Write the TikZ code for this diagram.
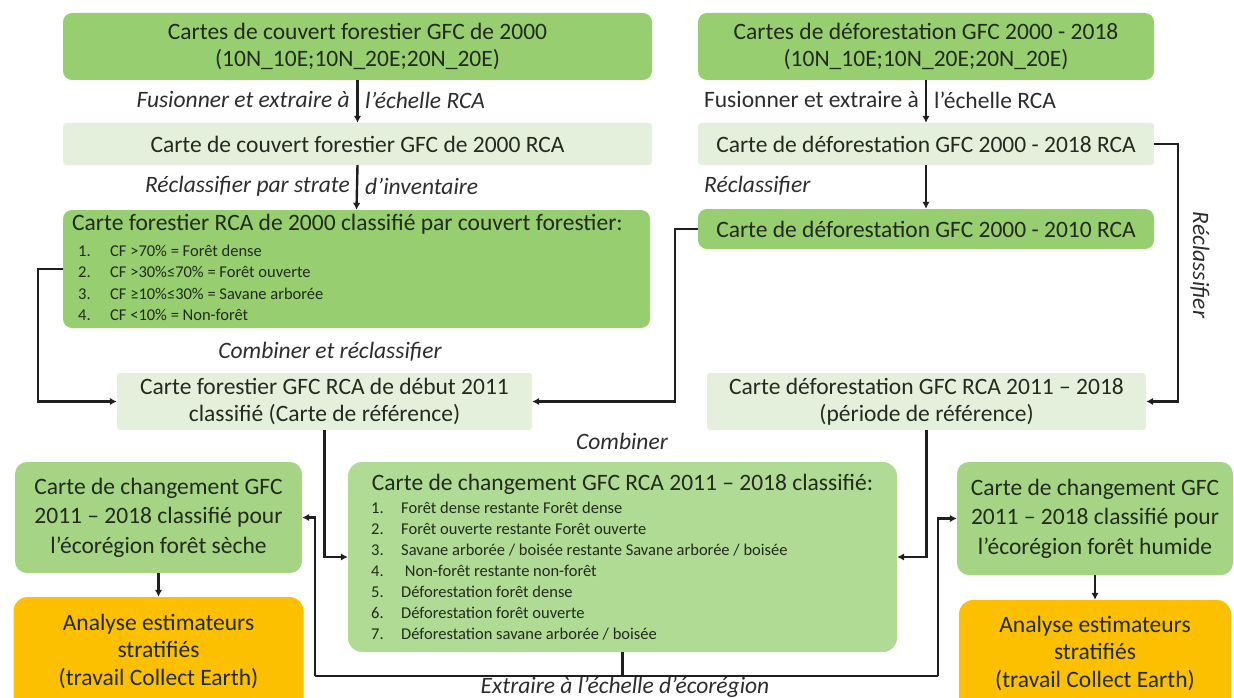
\documentclass[tikz,border=0pt]{standalone}
\usepackage{fontspec}
\setmainfont{Carlito}
\usetikzlibrary{arrows.meta}
\definecolor{gA}{RGB}{150,206,112}
\definecolor{gE}{RGB}{164,212,132}
\definecolor{gC}{RGB}{176,219,148}
\definecolor{gL}{RGB}{228,240,220}
\definecolor{orC}{RGB}{252,192,0}
\definecolor{txt}{RGB}{35,42,30}
\definecolor{labc}{RGB}{45,45,45}
\begin{document}
\begin{tikzpicture}[x=1pt,y=-1pt,
  box/.style={inner sep=0pt, align=center, text=txt, font=\fontsize{23.5}{27.5}\selectfont},
  gbox/.style={box, fill=gA, rounded corners=9pt},
  ebox/.style={box, fill=gE, rounded corners=12pt, font=\fontsize{23.5}{29.5}\selectfont},
  cbox/.style={box, fill=gC, rounded corners=14pt},
  lbox/.style={box, fill=gL, rounded corners=3pt},
  obox/.style={box, fill=orC, rounded corners=14pt},
  lab/.style={inner sep=0pt, text=labc, font=\fontsize{23.5}{27}\selectfont\itshape},
  labu/.style={inner sep=0pt, text=labc, font=\fontsize{23.5}{27}\selectfont},
  itm/.style={inner sep=0pt, anchor=west, text=txt, font=\fontsize{16.5}{20}\selectfont},
  conn/.style={line width=2.4pt, draw=black!88},
  arr/.style={conn, -{Latex[length=7pt,width=7.5pt]}}
]
\clip (0,0) rectangle (1234,698);
\useasboundingbox (0,0) rectangle (1234,698);

% left column
\node[gbox, minimum width=589, minimum height=67] (b1) at (357.5,46.5)
  {Cartes de couvert forestier GFC de 2000\\(10N\_10E;10N\_20E;20N\_20E)};
\node[lbox, minimum width=589, minimum height=42] (b2) at (357.5,144)
  {Carte de couvert forestier GFC de 2000 RCA};
\node[gbox, minimum width=587, minimum height=118] (b3) at (356.5,269) {};
\node[box, anchor=west] (b3t) at (72,224)
  {Carte forestier RCA de 2000 classifié par couvert forestier:};
\node[itm] (b3n1) at (78,251) {1.};
\node[itm] (b3n2) at (78,272) {2.};
\node[itm] (b3n3) at (78,294) {3.};
\node[itm] (b3n4) at (78,315) {4.};
\node[itm] (b3i1) at (110,251) {CF >70\% = Forêt dense};
\node[itm] (b3i2) at (110,272) {CF >30\%≤70\% = Forêt ouverte};
\node[itm] (b3i3) at (110,294) {CF ≥10\%≤30\% = Savane arborée};
\node[itm] (b3i4) at (110,315) {CF <10\% = Non-forêt};

% right column
\node[gbox, minimum width=456, minimum height=67] (r1) at (926,46.5)
  {Cartes de déforestation GFC 2000 - 2018\\(10N\_10E;10N\_20E;20N\_20E)};
\node[lbox, minimum width=456, minimum height=42] (r2) at (926,144)
  {Carte de déforestation GFC 2000 - 2018 RCA};
\node[gbox, minimum width=456, minimum height=40] (r3) at (926,229)
  {Carte de déforestation GFC 2000 - 2010 RCA};

% reference maps
\node[lbox, minimum width=415, minimum height=57] (ref) at (324.5,401.5)
  {Carte forestier GFC RCA de début 2011\\classifié (Carte de référence)};
\node[lbox, minimum width=439, minimum height=57] (def) at (926.5,401.5)
  {Carte déforestation GFC RCA 2011 – 2018\\(période de référence)};

% change map
\node[cbox, minimum width=549, minimum height=190] (chg) at (622.5,557) {};
\node[box] (chgt) at (622.5,484) {Carte de changement GFC RCA 2011 – 2018 classifié:};
\foreach \i/\t [evaluate=\i as \yy using 487+21*\i] in {
  1/{Forêt dense restante Forêt dense},
  2/{Forêt ouverte restante Forêt ouverte},
  3/{Savane arborée / boisée restante Savane arborée / boisée},
  4/{\ Non-forêt restante non-forêt},
  5/{Déforestation forêt dense},
  6/{Déforestation forêt ouverte},
  7/{Déforestation savane arborée / boisée}}{
  \node[itm] (cn\i) at (371,\yy) {\i.};
  \node[itm] (ci\i) at (401,\yy) {\t};
}

% eco-region maps
\node[ebox, minimum width=287, minimum height=111] (ecoL) at (158.5,517.5)
  {Carte de changement GFC\\2011 – 2018 classifié pour\\l’écorégion forêt sèche};
\node[ebox, minimum width=276, minimum height=113] (ecoR) at (1095,518.5)
  {Carte de changement GFC\\2011 – 2018 classifié pour\\l’écorégion forêt humide};

% analysis boxes
\node[obox, minimum width=290, minimum height=126] (orL) at (158.5,660) {};
\node[box] (orLt) at (158.5,651) {Analyse estimateurs\\stratifiés\\(travail Collect Earth)};
\node[obox, minimum width=272, minimum height=124] (orR) at (1095,662) {};
\node[box] (orRt) at (1095,653) {Analyse estimateurs\\stratifiés\\(travail Collect Earth)};

% labels
\node[lab, anchor=east] (l1a) at (350,100) {Fusionner et extraire à};
\node[lab, anchor=west] (l1b) at (365,100) {l’échelle RCA};
\node[labu, anchor=east] (l2a) at (919,100) {Fusionner et extraire à};
\node[labu, anchor=west] (l2b) at (934,100) {l’échelle RCA};
\node[lab, anchor=east] (l3a) at (350,186) {Réclassifier par strate};
\node[lab, anchor=west] (l3b) at (365,186) {d’inventaire};
\node[lab, anchor=west] (l4) at (704,186) {Réclassifier};
\node[lab, rotate=-90] (l5) at (1200,265) {Réclassifier};
\node[lab] (l6) at (330,352) {Combiner et réclassifier};
\node[lab] (l7) at (622,441) {Combiner};
\node[lab] (l8) at (625,687) {Extraire à l’échelle d’écorégion};

% connectors
\draw[arr] (b1.south) -- (b2.north);
\draw[arr] (b2.south) -- (b3.north);
\draw[arr] (r1.south) -- (r2.north);
\draw[arr] (r2.south) -- (r3.north);
\draw[arr] (r2.east) -- ++(24,0) |- (def.east);
\draw[arr] (r3.west) -- ++(-23,0) |- (ref.east);
\draw[arr] (b3.west) -- ++(-25,0) |- (ref.west);
\draw[arr] (ref.south) |- (chg.west);
\draw[arr] (def.south) |- (chg.east);
\coordinate (busL) at (315,676);
\coordinate (busR) at (938,676);
\draw[conn] (chg.south) -- (chg.south |- busL);
\draw[conn] (busL) -- (busR);
\draw[arr] (busL) |- (ecoL.east);
\draw[arr] (busR) |- (ecoR.west);
\draw[arr] (ecoL.south) -- (orL.north);
\draw[arr] (ecoR.south) -- (orR.north);
\end{tikzpicture}
\end{document}
